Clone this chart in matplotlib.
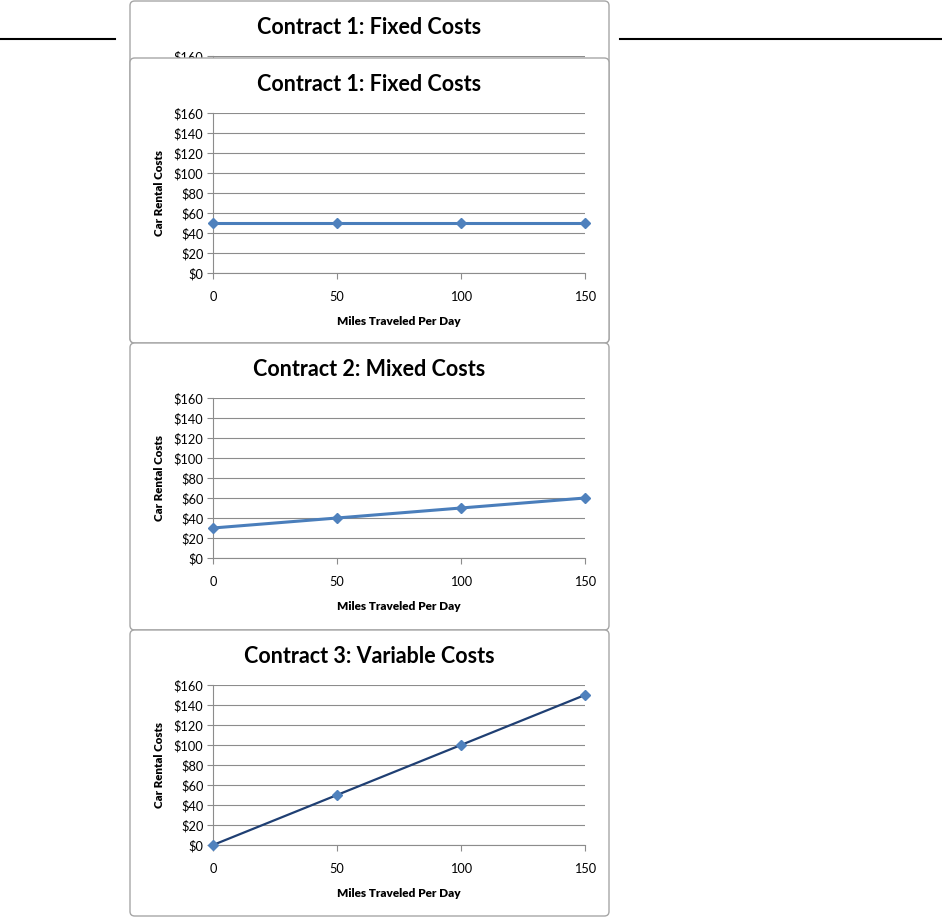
import matplotlib.pyplot as plt
from matplotlib.patches import FancyBboxPatch
from matplotlib.lines import Line2D
from matplotlib.ticker import FuncFormatter

# Data
miles = [0, 50, 100, 150]
fixed_costs = [50, 50, 50, 50]
mixed_costs = [30, 40, 50, 60]
variable_costs = [0, 50, 100, 150]

titles = ['Contract 1: Fixed Costs', 'Contract 1: Fixed Costs',
          'Contract 2: Mixed Costs', 'Contract 3: Variable Costs']
series = [fixed_costs, fixed_costs, mixed_costs, variable_costs]
line_colors = ['#4A7EBB', '#4A7EBB', '#4A7EBB', '#1F3F73']
line_widths = [2.2, 2.2, 2.2, 1.6]
y_ticks = [0, 20, 40, 60, 80, 100, 120, 140, 160]
x_ticks = [0, 50, 100, 150]

W, H = 942, 917
plt.rcParams['font.family'] = ['Lato', 'DejaVu Sans']

fig = plt.figure(figsize=(W / 100, H / 100), dpi=100)
fig.patch.set_facecolor('white')

# panel tops in pixels (first one is the cut-off copy at the top)
panel_tops = [1, 58, 343, 630]
panel_bottoms = [343, 343, 630, 916]
px_left, px_right = 130, 609

grid_gray = '#8C8C8C'

for i, (top, bottom) in enumerate(zip(panel_tops, panel_bottoms)):
    # panel background with rounded border
    box = FancyBboxPatch((px_left / W, 1 - bottom / H),
                         (px_right - px_left) / W, (bottom - top) / H,
                         boxstyle='round,pad=0,rounding_size=0.005',
                         transform=fig.transFigure, facecolor='white',
                         edgecolor='#A6A6A6', linewidth=1.0, zorder=2 * i)
    fig.add_artist(box)

    # title centred on the panel
    fig.text((px_left + px_right) / 2 / W, 1 - (top + 26.5) / H, titles[i],
             ha='center', va='center', fontsize=15.5, fontweight='bold',
             zorder=2 * i + 1)

    # plot area: 160 gridline 55 px below panel top, 160 px tall
    ax_top = top + 55
    ax_bottom = ax_top + 160
    ax = fig.add_axes([213 / W, 1 - ax_bottom / H, (585 - 213) / W, 160 / H])
    ax.set_zorder(2 * i + 1)
    ax.patch.set_visible(False)

    ax.plot(miles, series[i], color=line_colors[i], linewidth=line_widths[i],
            marker='D', markersize=4.8, markerfacecolor='#4F81BD',
            markeredgecolor='#4F81BD', clip_on=False, zorder=3)

    ax.set_xlim(0, 150)
    ax.set_ylim(0, 160)
    ax.yaxis.set_major_formatter(FuncFormatter(lambda v, p: '$%d' % v))
    ax.grid(True, axis='y', color=grid_gray, linewidth=0.8)
    ax.set_axisbelow(True)
    for s in ['top', 'right']:
        ax.spines[s].set_visible(False)
    for s in ['left', 'bottom']:
        ax.spines[s].set_color(grid_gray)
        ax.spines[s].set_linewidth(0.8)
    ax.tick_params(axis='both', colors=grid_gray, labelcolor='black',
                   labelsize=9.2, length=4, width=0.8, direction='out')
    ax.tick_params(axis='x', pad=9)
    ax.tick_params(axis='y', pad=3)

    if i == 0:
        # the top copy is hidden behind the next panel: only its top shows
        ax.set_yticks([160])
        ax.set_xticks([])
        continue

    ax.set_xticks(x_ticks)
    ax.set_yticks(y_ticks)
    ax.set_xlabel('Miles Traveled Per Day', fontsize=8.5, fontweight='heavy', labelpad=9)
    ax.set_ylabel('Car Rental Costs', fontsize=8.3, fontweight='heavy', labelpad=6)

# black rule across the top, interrupted by the panels
fig.add_artist(Line2D([0, 115 / W], [1 - 38.5 / H] * 2, color='black',
                      linewidth=1.5, transform=fig.transFigure, zorder=20))
fig.add_artist(Line2D([620 / W, 1], [1 - 38.5 / H] * 2, color='black',
                      linewidth=1.5, transform=fig.transFigure, zorder=20))

plt.savefig('out.png', dpi=100)
plt.close()
